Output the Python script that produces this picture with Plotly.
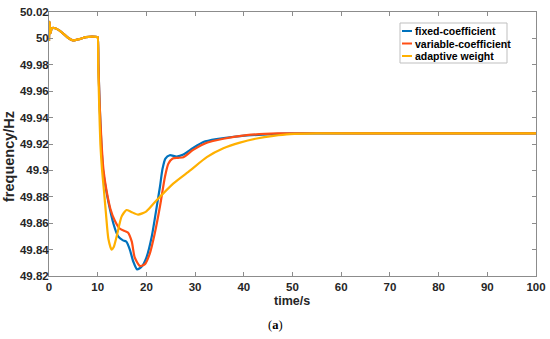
import plotly.graph_objects as go

# ---- data ----
t_start = [0, 0.12, 0.3, 0.6, 1.3, 2.5, 3.9, 4.9, 6.3, 7.6, 8.9, 9.9]
f_start = [49.998, 50.0125, 50.004, 50.0078, 50.0077, 50.005, 50.0005, 49.9985, 49.9995, 50.001, 50.0013, 50.001]

t_fixed = [10.0, 10.15, 10.4, 10.75, 11.1, 11.5, 12.2, 13.2, 14.2, 15.2, 15.9, 16.6, 17.3, 18.1, 19.0, 20.0,
           21.1, 22.1, 22.8, 23.3, 23.9, 24.8, 26.2, 27.6, 29.6, 31.7, 34.4, 39.2, 46.0, 52.0, 70.0, 100.0]
f_fixed = [50.001, 49.98, 49.95, 49.92, 49.90, 49.89, 49.876, 49.86, 49.85, 49.847, 49.846, 49.840, 49.831, 49.825,
           49.827, 49.834, 49.850, 49.872, 49.888, 49.901, 49.909, 49.9115, 49.9105, 49.912, 49.917, 49.9215,
           49.9237, 49.926, 49.9275, 49.928, 49.928, 49.928]

t_var = [10.0, 10.15, 10.4, 10.8, 11.2, 11.8, 12.6, 13.5, 14.5, 15.6, 16.2, 17.0, 17.6, 18.7, 19.7, 20.7, 21.7,
         22.8, 23.8, 24.5, 25.4, 26.5, 27.6, 29.6, 32.4, 35.8, 40.6, 47.0, 70.0, 100.0]
f_var = [50.001, 49.98, 49.95, 49.92, 49.90, 49.885, 49.871, 49.862, 49.856, 49.854, 49.853, 49.846, 49.834,
         49.8275, 49.829, 49.837, 49.852, 49.873, 49.895, 49.905, 49.909, 49.9095, 49.910, 49.9155, 49.921,
         49.924, 49.9267, 49.928, 49.928, 49.928]

t_adapt = [10.0, 10.1, 10.3, 10.55, 10.9, 11.3, 11.7, 12.2, 12.85, 13.3, 13.9, 14.9, 15.9, 16.9, 18.3, 20.0,
           22.0, 25.5, 29.0, 32.4, 35.8, 39.2, 42.7, 46.1, 49.5, 55.0, 70.0, 100.0]
f_adapt = [50.001, 49.98, 49.95, 49.92, 49.90, 49.884, 49.867, 49.848, 49.840, 49.842, 49.850, 49.865, 49.870,
           49.8685, 49.8665, 49.869, 49.877, 49.890, 49.900, 49.910, 49.9167, 49.921, 49.9242, 49.9262, 49.9275,
           49.928, 49.928, 49.928]

series_names = ["fixed-coefficient", "variable-coefficient", "adaptive weight"]
series_colors = ["#0072BD", "#FF4E14", "#FFB000"]

x_ticks = [0, 10, 20, 30, 40, 50, 60, 70, 80, 90, 100]
x_tick_labels = ["0", "10", "20", "30", "40", "50", "60", "70", "80", "90", "100"]
y_ticks = [49.82, 49.84, 49.86, 49.88, 49.9, 49.92, 49.94, 49.96, 49.98, 50.0, 50.02]
y_tick_labels = ["49.82", "49.84", "49.86", "49.88", "49.9", "49.92", "49.94", "49.96", "49.98", "50", "50.02"]

# ---- figure ----
fig = go.Figure()
series_t = [t_start + t_fixed, t_start + t_var, t_start + t_adapt]
series_f = [f_start + f_fixed, f_start + f_var, f_start + f_adapt]
for name, color, tt, ff in zip(series_names, series_colors, series_t, series_f):
    fig.add_trace(go.Scatter(x=tt, y=ff, mode="lines", name=name,
                             line=dict(color=color, width=2.2, shape="spline", smoothing=0.6),
                             showlegend=False))

SANS = "Liberation Sans, Arial, sans-serif"
font_tick = dict(family=SANS, size=11.5, color="#262626", weight="bold")
axis_common = dict(showline=True, linecolor="#8c8c8c", linewidth=1, mirror="ticks", ticks="inside",
                   ticklen=4, tickcolor="#8c8c8c", showgrid=False, zeroline=False, tickfont=font_tick,
                   automargin=False)

fig.update_xaxes(range=[0, 100], tickvals=x_ticks, ticktext=x_tick_labels, ticklabelstandoff=0, **axis_common)
fig.update_yaxes(range=[49.82, 50.02], tickvals=y_ticks, ticktext=y_tick_labels, ticklabelstandoff=-3, **axis_common)

W, H = 550, 339
ml, mr, mt, mb = 49, 14, 12, 63
pw, ph = W - ml - mr, H - mt - mb
def px(x):
    return (x - ml) / pw
def py(y):
    return 1 - (y - mt) / ph

# manual legend (compact, MATLAB-like)
leg_x0, leg_x1, leg_y0, leg_y1 = 400, 507, 23, 63
shapes = [dict(type="rect", xref="paper", yref="paper", x0=px(leg_x0), x1=px(leg_x1),
               y0=py(leg_y1), y1=py(leg_y0), line=dict(color="#bfbfbf", width=1), fillcolor="white", layer="above")]
annotations = []
for i, (name, color) in enumerate(zip(series_names, series_colors)):
    yy = 31 + i * 12.5
    shapes.append(dict(type="line", xref="paper", yref="paper", x0=px(402), x1=px(412), y0=py(yy), y1=py(yy),
                       line=dict(color=color, width=2), layer="above"))
    annotations.append(dict(text=name, xref="paper", yref="paper", x=px(412.5), y=py(yy), xanchor="left",
                            yanchor="middle", showarrow=False,
                            font=dict(family=SANS, size=10.5, color="black", weight="bold")))

# axis titles
annotations.append(dict(text="time/s", xref="paper", yref="paper", x=px(292), y=py(301), xanchor="center",
                        yanchor="middle", showarrow=False,
                        font=dict(family=SANS, size=12.5, color="#262626", weight="bold")))
annotations.append(dict(text="frequency/Hz", xref="paper", yref="paper", x=px(9), y=py(157), xanchor="center",
                        yanchor="middle", showarrow=False, textangle=-90,
                        font=dict(family=SANS, size=14.5, color="#262626", weight="bold")))

annotations.append(dict(text="(<b>a</b>)", xref="paper", yref="paper", x=px(275), y=py(325), xanchor="center",
                        yanchor="middle", showarrow=False,
                        font=dict(family="Liberation Serif, DejaVu Serif, serif", size=12.5, color="black")))

fig.update_layout(width=W, height=H, margin=dict(l=ml, r=mr, t=mt, b=mb, autoexpand=False),
                  paper_bgcolor="white", plot_bgcolor="white",
                  shapes=shapes, annotations=annotations)

fig.write_html("out.html", config={"displayModeBar": False},
               post_script="document.body.style.margin='0';document.body.style.overflow='hidden';")
